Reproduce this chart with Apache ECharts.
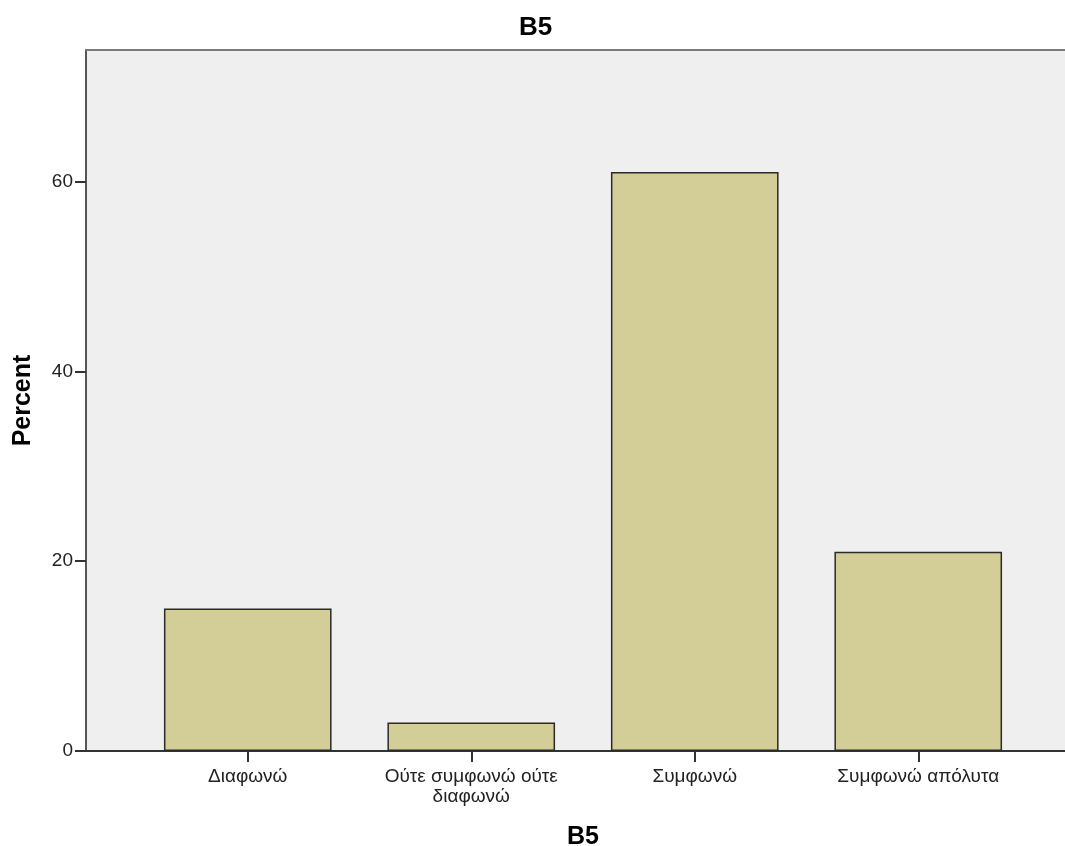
<!DOCTYPE html>
<html>
<head>
<meta charset="utf-8">
<script src="https://cdn.jsdelivr.net/npm/echarts@6/dist/echarts.min.js"></script>
<style>
html,body{margin:0;padding:0;background:#fff;}
#chart{width:1065px;height:846px;}
</style>
</head>
<body>
<div id="chart"></div>
<script>
const categories = ['Διαφωνώ', 'Ούτε συμφωνώ ούτε\nδιαφωνώ', 'Συμφωνώ', 'Συμφωνώ απόλυτα'];
const percentValues = [15, 3, 61, 21];
const yTicks = [0, 20, 40, 60];
const chartTitle = 'B5';
const xAxisTitle = 'B5';
const yAxisTitle = 'Percent';

const FONT = '"Liberation Sans", Arial, sans-serif';
const Y_MAX = 73.85;

const chart = echarts.init(document.getElementById('chart'), null, {renderer: 'canvas'});
chart.setOption({
  animation: false,
  backgroundColor: '#ffffff',
  title: {
    text: chartTitle,
    left: 519, top: 15, padding: 0,
    textStyle: {fontFamily: FONT, fontSize: 26, fontWeight: 'bold', color: '#000'}
  },
  grid: [
    {left: 86, right: 0, top: 50, bottom: 95, show: true, backgroundColor: '#efefef', borderWidth: 0,
     containLabel: false, outerBoundsMode: 'none'},
    {left: 136, right: 35, top: 50, bottom: 95, containLabel: false, outerBoundsMode: 'none'}
  ],
  xAxis: [
    {gridIndex: 0, type: 'value', min: 0, max: 1, position: 'bottom',
     axisLine: {show: true, lineStyle: {color: '#333', width: 2}},
     axisTick: {show: false}, axisLabel: {show: false}, splitLine: {show: false}},
    {gridIndex: 0, type: 'value', min: 0, max: 1, position: 'top',
     axisLine: {show: true, lineStyle: {color: '#7a7a7a', width: 2}},
     axisTick: {show: false}, axisLabel: {show: false}, splitLine: {show: false}},
    {gridIndex: 1, type: 'category', data: categories, position: 'bottom',
     axisLine: {show: false},
     axisTick: {show: true, alignWithLabel: true, length: 11, lineStyle: {color: '#333', width: 2}},
     axisLabel: {fontFamily: FONT, fontSize: 19, color: '#222', margin: 16, lineHeight: 20, interval: 0},
     name: xAxisTitle, nameLocation: 'middle', nameGap: 74,
     nameTextStyle: {fontFamily: FONT, fontSize: 25, fontWeight: 'bold', color: '#000'}}
  ],
  yAxis: [
    {gridIndex: 0, type: 'value', min: 0, max: Y_MAX,
     axisLine: {show: true, lineStyle: {color: '#555', width: 2}},
     axisTick: {show: true, length: 11, customValues: yTicks, lineStyle: {color: '#333', width: 2}},
     axisLabel: {fontFamily: FONT, fontSize: 19, color: '#222', margin: 13, customValues: yTicks},
     splitLine: {show: false},
     name: yAxisTitle, nameLocation: 'middle', nameGap: 50, nameRotate: 90,
     nameTextStyle: {fontFamily: FONT, fontSize: 25, fontWeight: 'bold', color: '#000'}},
    {gridIndex: 1, type: 'value', min: 0, max: Y_MAX, show: false, splitLine: {show: false}}
  ],
  series: [{
    type: 'bar',
    xAxisIndex: 2, yAxisIndex: 1,
    data: percentValues,
    barCategoryGap: '25%',
    itemStyle: {color: '#d3ce97', borderColor: '#2a2a2a', borderWidth: 1.5}
  }]
});
</script>
</body>
</html>
